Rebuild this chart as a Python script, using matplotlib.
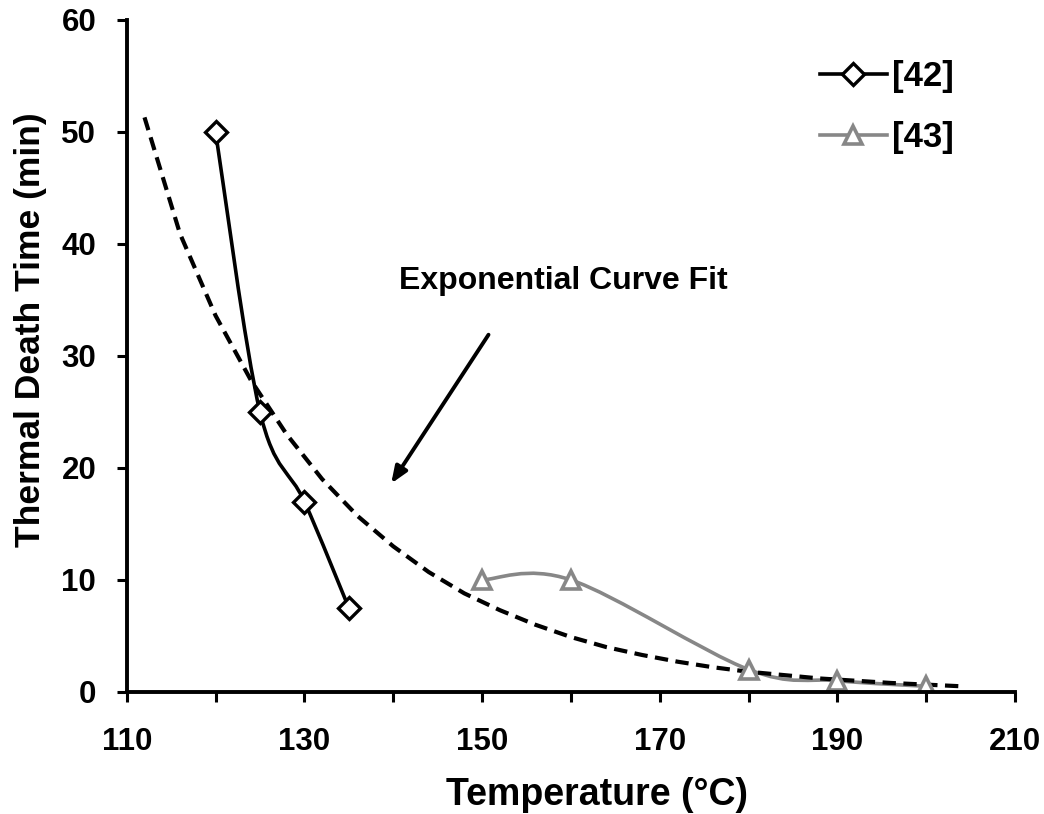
import numpy as np
import matplotlib
matplotlib.use('Agg')
import matplotlib.pyplot as plt
from matplotlib.path import Path
from matplotlib.patches import PathPatch
from matplotlib.lines import Line2D

plt.rcParams['font.family'] = ['Liberation Sans', 'DejaVu Sans']
plt.rcParams['font.weight'] = 'bold'

## data
temp_42 = [120, 125, 130, 135]
time_42 = [50, 25, 17, 7.5]

temp_43 = [150, 160, 180, 190, 200]
time_43 = [10, 10, 2, 1, 0.5]

# exponential fit curve, read at every 4 degrees
fit_temp = [112, 116, 120, 124, 128, 132, 136, 140, 144, 148, 152, 156,
            160, 164, 168, 172, 176, 180, 184, 188, 192, 196, 200, 204]
fit_time = [51.3, 40.9, 33.6, 27.8, 23.0, 19.0, 15.7, 13.0, 10.7, 8.8, 7.3, 6.0,
            4.9, 4.0, 3.3, 2.7, 2.2, 1.8, 1.5, 1.2, 1.0, 0.8, 0.65, 0.5]

x_ticks = [110, 120, 130, 140, 150, 160, 170, 180, 190, 200, 210]
x_labels = ['110', '', '130', '', '150', '', '170', '', '190', '', '210']
y_ticks = [0, 10, 20, 30, 40, 50, 60]


def smooth_path(xs, ys):
    # excel style smoothed line: bezier segments through the points
    pts = np.column_stack([xs, ys]).astype(float)
    n = len(pts)
    verts = [pts[0]]
    codes = [Path.MOVETO]
    for i in range(n - 1):
        p0 = pts[i - 1] if i > 0 else pts[i]
        p1 = pts[i]
        p2 = pts[i + 1]
        p3 = pts[i + 2] if i + 2 < n else pts[i + 1]
        verts += [p1 + (p2 - p0) / 6, p2 - (p3 - p1) / 6, p2]
        codes += [Path.CURVE4] * 3
    return Path(verts, codes)


fig = plt.figure(figsize=(10.44, 8.14), dpi=100)
ax = fig.add_axes([0.1214, 0.1500, 0.8508, 0.8255])

gray = '#878787'

ax.plot(fit_temp, fit_time, color='black', lw=3, linestyle=(0, (3.2, 1.8)))

ax.add_patch(PathPatch(smooth_path(temp_42, time_42), facecolor='none',
                       edgecolor='black', lw=2.6))
ax.add_patch(PathPatch(smooth_path(temp_43, time_43), facecolor='none',
                       edgecolor=gray, lw=2.6))

ax.plot(temp_42, time_42, linestyle='none', marker='D', markersize=11,
        markerfacecolor='white', markeredgecolor='black', markeredgewidth=2.4)
ax.plot(temp_43, time_43, linestyle='none', marker='^', markersize=13,
        markerfacecolor='white', markeredgecolor=gray, markeredgewidth=2.6)

ax.set_xlim(110, 210)
ax.set_ylim(0, 60)
ax.set_xticks(x_ticks)
ax.set_xticklabels(x_labels)
ax.set_yticks(y_ticks)

for s in ['top', 'right']:
    ax.spines[s].set_visible(False)
for s in ['left', 'bottom']:
    ax.spines[s].set_linewidth(2.8)
ax.tick_params(direction='out', length=7, width=2.2, labelsize=22.5)
ax.tick_params(axis='x', pad=18)
ax.tick_params(axis='y', pad=15)

ax.set_xlabel('Temperature (°C)', fontsize=27, fontweight='bold')
ax.set_ylabel('Thermal Death Time (min)', fontsize=25.5, fontweight='bold')
ax.xaxis.set_label_coords(0.529, -0.127)
ax.yaxis.set_label_coords(-0.09, 0.539)

ax.annotate('', xy=(139.6, 18.4), xytext=(150.9, 32.1),
            arrowprops=dict(arrowstyle='-|>,head_length=1.0,head_width=0.4',
                            color='black', lw=2.8))
ax.text(159.1, 36.7, 'Exponential Curve Fit', fontsize=23, fontweight='bold',
        ha='center', va='center')

handles = [Line2D([], [], color='black', lw=2.6, marker='D', markersize=11,
                  markerfacecolor='white', markeredgecolor='black', markeredgewidth=2.4),
           Line2D([], [], color=gray, lw=2.6, marker='^', markersize=13,
                  markerfacecolor='white', markeredgecolor=gray, markeredgewidth=2.6)]
ax.legend(handles, ['[42]', '[43]'], loc='upper left', bbox_to_anchor=(0.78, 0.94),
          frameon=False, fontsize=25, borderpad=0, borderaxespad=0,
          handlelength=1.95, handletextpad=0.15, labelspacing=0.8)

plt.savefig('out.png', dpi=100)
